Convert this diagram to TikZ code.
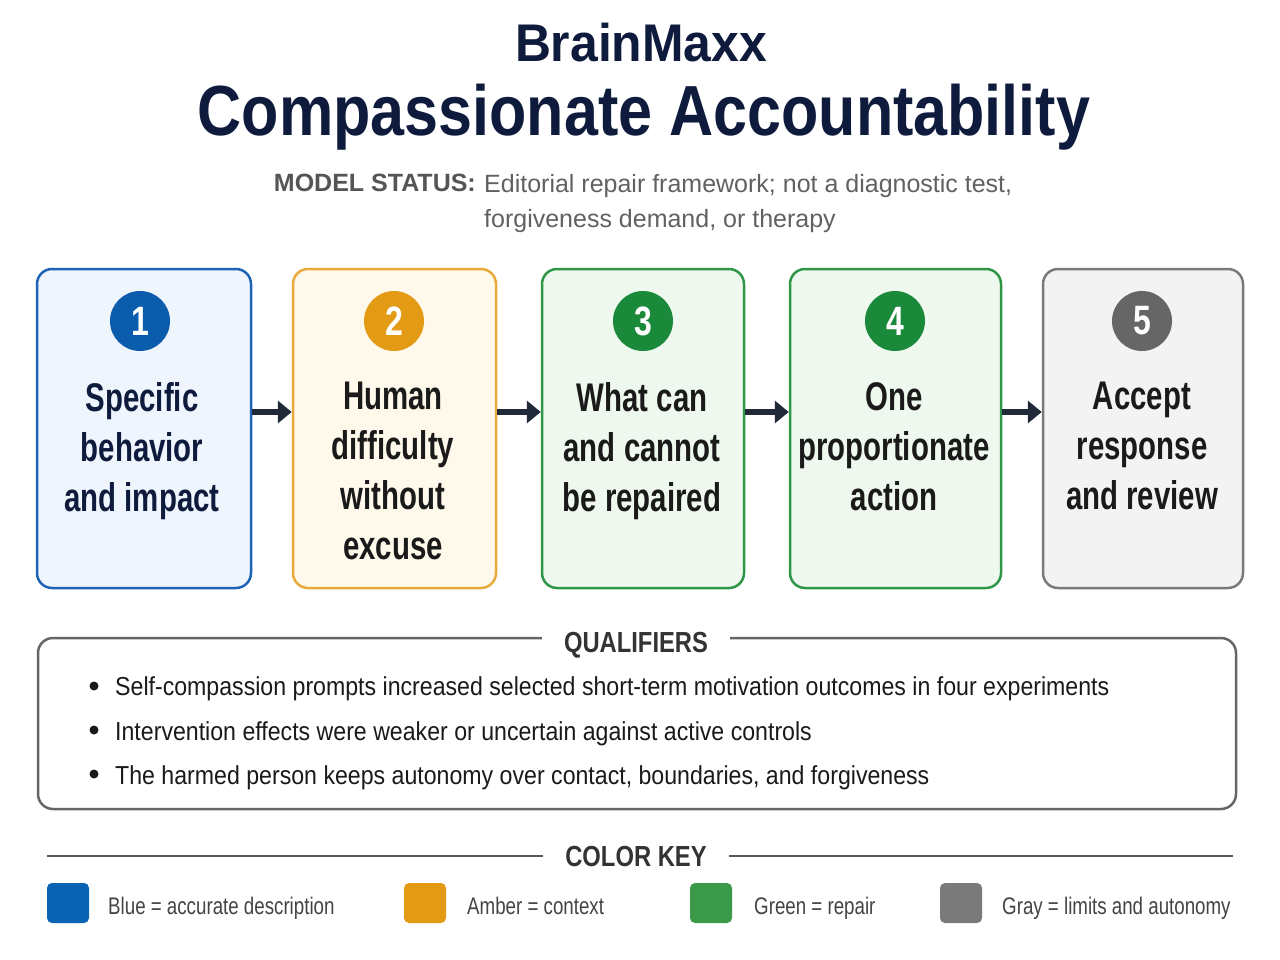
\documentclass[tikz,border=0pt]{standalone}
\usepackage{fontspec}
\setmainfont{Liberation Sans}
\newfontfamily\condfont[FakeStretch=0.78]{Liberation Sans}
\newfontfamily\boxfont[FakeStretch=0.735]{Liberation Sans}
\newfontfamily\qualfont[FakeStretch=0.89]{Liberation Sans}
\newfontfamily\headfont[FakeStretch=0.82]{Liberation Sans}
\newfontfamily\titlefont[FakeStretch=0.86]{Liberation Sans}
\newfontfamily\brandfont[FakeStretch=0.94]{Liberation Sans}
\usetikzlibrary{arrows.meta}
\definecolor{navy}{HTML}{0F1B3D}
\definecolor{bluebd}{HTML}{1E63B5}
\definecolor{bluefill}{HTML}{EEF5FC}
\definecolor{bluecirc}{HTML}{0B5CAD}
\definecolor{amberbd}{HTML}{E9A93B}
\definecolor{amberfill}{HTML}{FFF9EC}
\definecolor{ambercirc}{HTML}{E39B16}
\definecolor{greenbd}{HTML}{2E9646}
\definecolor{greenfill}{HTML}{EEF8EE}
\definecolor{greencirc}{HTML}{1A8A3A}
\definecolor{graybd}{HTML}{7A7A7A}
\definecolor{grayfill}{HTML}{F3F3F3}
\definecolor{graycirc}{HTML}{666666}
\definecolor{arrowc}{HTML}{1F2937}
\definecolor{subgray}{HTML}{555555}
\definecolor{textdark}{HTML}{1A1A1A}
\definecolor{keytext}{HTML}{444444}
\definecolor{keyblue}{HTML}{0A64B4}
\definecolor{keyamber}{HTML}{E39B16}
\definecolor{keygreen}{HTML}{3A9A4A}
\definecolor{keygray}{HTML}{7A7A7A}
\tikzset{
  stepbox/.style={draw, line width=2.5pt, rounded corners=15pt, minimum width=#1, minimum height=319pt, inner sep=0pt},
  numcirc/.style={circle, minimum size=60pt, inner sep=0pt, text=white, font=\condfont\bfseries\fontsize{41}{41}\selectfont},
  boxtext/.style={anchor=north, align=center, inner sep=0pt, text=textdark, font=\boxfont\bfseries\fontsize{40}{50}\selectfont},
  flowarrow/.style={draw=arrowc, line width=6pt, -{Triangle[length=14pt,width=22pt]}},
  qtext/.style={anchor=base west, inner sep=0pt, text=textdark, font=\qualfont\fontsize{26}{30}\selectfont},
  bulletdot/.style={circle, fill=textdark, minimum size=9pt, inner sep=0pt},
  heading/.style={anchor=base, fill=white, inner xsep=22pt, inner ysep=4pt, text=black!80, font=\headfont\bfseries\fontsize{29}{30}\selectfont},
  swatch/.style={rounded corners=5pt, minimum width=42pt, minimum height=40pt, inner sep=0pt},
  keytxt/.style={anchor=base west, inner sep=0pt, text=keytext, font=\condfont\fontsize{24}{28}\selectfont}
}
\begin{document}
\begin{tikzpicture}[x=1pt,y=-1pt]
\useasboundingbox[fill=white] (0,0) rectangle (1280,960);
% titles
\node[text=navy, font=\brandfont\bfseries\fontsize{53}{60}\selectfont] (brand) at (641,43) {BrainMaxx};
\node[text=navy, font=\titlefont\bfseries\fontsize{71}{80}\selectfont] (title) at (644,117) {Compassionate Accountability};
\node[anchor=north east, inner sep=0pt, text=subgray, font=\bfseries\fontsize{25}{35}\selectfont] (statlabel) at (476,174) {MODEL STATUS:};
\node[anchor=north west, inner sep=0pt, align=left, text=black!62, font=\fontsize{25}{35}\selectfont] (status) at (484,174) {Editorial repair framework; not a diagnostic test,\\forgiveness demand, or therapy};
% step boxes
\node[stepbox=214pt, draw=bluebd, fill=bluefill] (b1) at (144,428.5) {};
\node[stepbox=203pt, draw=amberbd, fill=amberfill] (b2) at (394.5,428.5) {};
\node[stepbox=202pt, draw=greenbd, fill=greenfill] (b3) at (643,428.5) {};
\node[stepbox=211pt, draw=greenbd, fill=greenfill] (b4) at (895.5,428.5) {};
\node[stepbox=200pt, draw=graybd, fill=grayfill] (b5) at (1143,428.5) {};
% numbers
\node[numcirc, fill=bluecirc] (n1) at (140,321) {1};
\node[numcirc, fill=ambercirc] (n2) at (394,321) {2};
\node[numcirc, fill=greencirc] (n3) at (643,321) {3};
\node[numcirc, fill=greencirc] (n4) at (895,321) {4};
\node[numcirc, fill=graycirc] (n5) at (1142,321) {5};
% box texts
\node[boxtext, text=navy] (t1) at (142,382) {Specific\\behavior\\and impact};
\node[boxtext] (t2) at (393,382) {Human\\difficulty\\without\\excuse};
\node[boxtext] (t3) at (642,382) {What can\\and cannot\\be repaired};
\node[boxtext] (t4) at (894,382) {One\\proportionate\\action};
\node[boxtext] (t5) at (1142,382) {Accept\\response\\and review};
% arrows
\draw[flowarrow] ([yshift=16.5pt]b1.east) -- ([yshift=16.5pt]b2.west);
\draw[flowarrow] ([yshift=16.5pt]b2.east) -- ([yshift=16.5pt]b3.west);
\draw[flowarrow] ([yshift=16.5pt]b3.east) -- ([yshift=16.5pt]b4.west);
\draw[flowarrow] ([yshift=16.5pt]b4.east) -- ([yshift=16.5pt]b5.west);
% qualifiers
\draw[draw=black!60, line width=2.5pt, rounded corners=15pt] (38,638) rectangle (1236,809);
\node[heading] (qhead) at (636,652) {QUALIFIERS};
\node[bulletdot] (d1) at (94,686) {};
\node[bulletdot] (d2) at (94,730) {};
\node[bulletdot] (d3) at (94,774) {};
\node[qtext] (q1) at (115,695) {Self-compassion prompts increased selected short-term motivation outcomes in four experiments};
\node[qtext] (q2) at (115,740) {Intervention effects were weaker or uncertain against active controls};
\node[qtext] (q3) at (115,784) {The harmed person keeps autonomy over contact, boundaries, and forgiveness};
% color key
\node[heading, fill=none] (khead) at (636,866) {COLOR KEY};
\coordinate (kl) at (47,856);
\coordinate (kr) at (1233,856);
\draw[draw=black!65, line width=2pt] (kl) -- (kl -| khead.west);
\draw[draw=black!65, line width=2pt] (khead.east |- kr) -- (kr);
\node[swatch, fill=keyblue] (s1) at (68,903) {};
\node[swatch, fill=keyamber] (s2) at (425,903) {};
\node[swatch, fill=keygreen] (s3) at (711,903) {};
\node[swatch, fill=keygray] (s4) at (961,903) {};
\node[keytxt] (k1) at (108,914) {Blue = accurate description};
\node[keytxt] (k2) at (467,914) {Amber = context};
\node[keytxt] (k3) at (754,914) {Green = repair};
\node[keytxt] (k4) at (1002,914) {Gray = limits and autonomy};
\end{tikzpicture}
\end{document}
